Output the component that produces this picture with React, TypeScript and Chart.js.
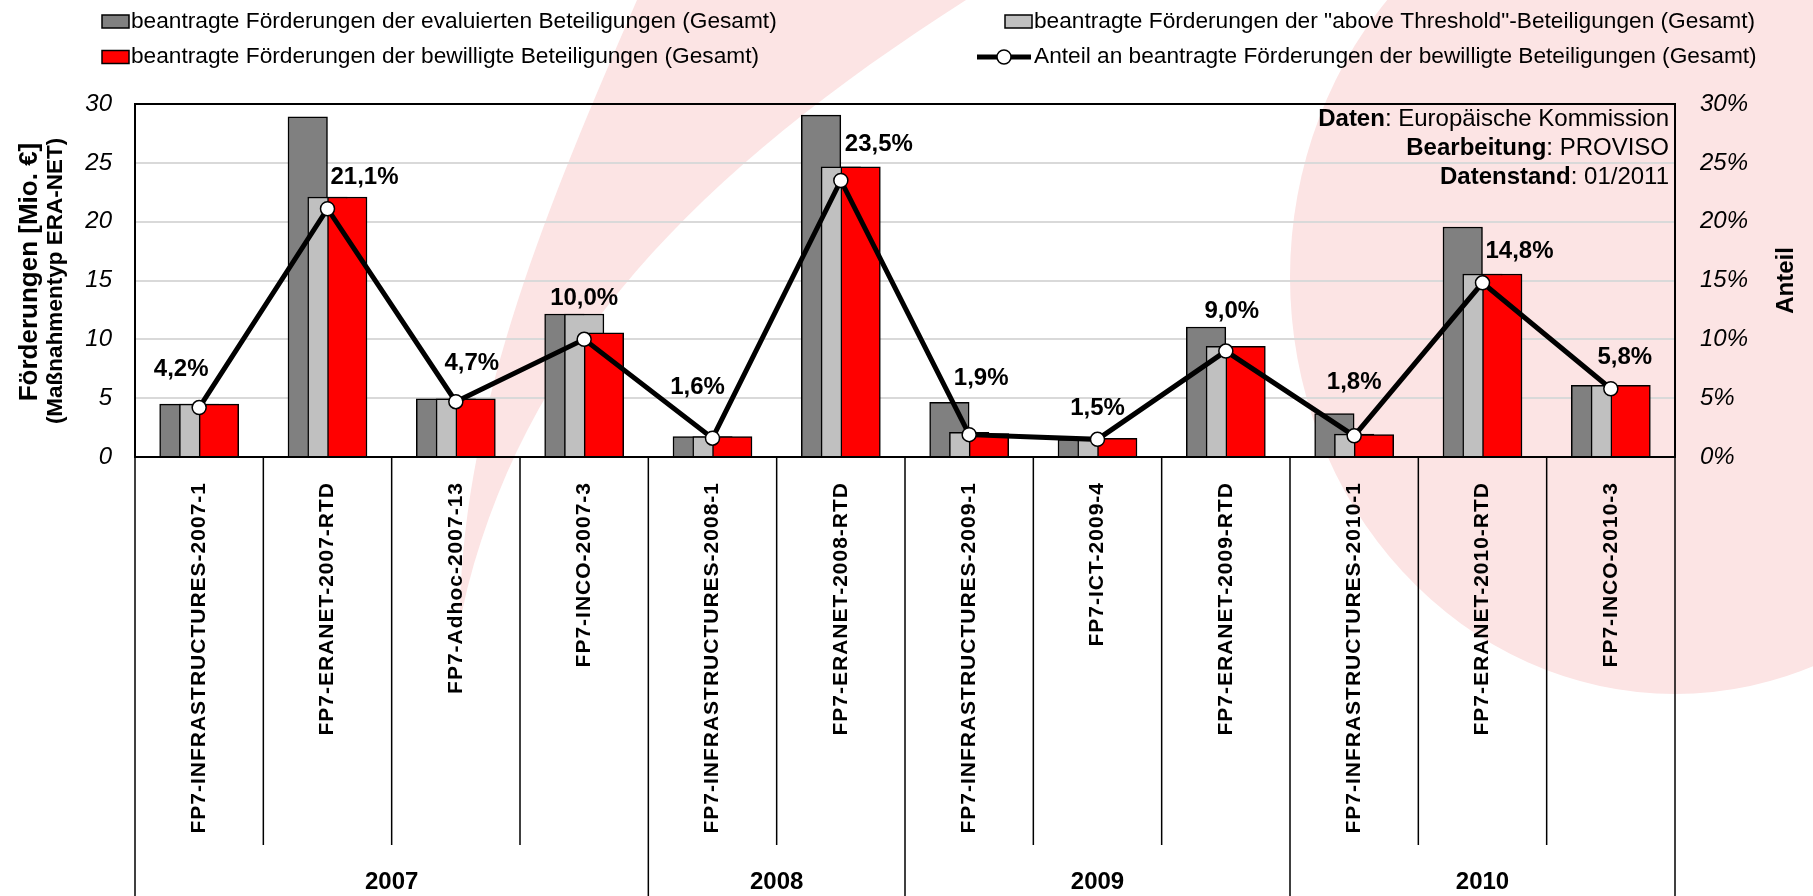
import React, { useEffect, useRef } from 'react';
import { Chart, registerables } from 'chart.js';

Chart.register(...registerables);

// ---------- data ----------
const categories = [
  'FP7-INFRASTRUCTURES-2007-1',
  'FP7-ERANET-2007-RTD',
  'FP7-Adhoc-2007-13',
  'FP7-INCO-2007-3',
  'FP7-INFRASTRUCTURES-2008-1',
  'FP7-ERANET-2008-RTD',
  'FP7-INFRASTRUCTURES-2009-1',
  'FP7-ICT-2009-4',
  'FP7-ERANET-2009-RTD',
  'FP7-INFRASTRUCTURES-2010-1',
  'FP7-ERANET-2010-RTD',
  'FP7-INCO-2010-3',
];
const categoryYears = ['2007', '2007', '2007', '2007', '2008', '2008', '2009', '2009', '2009', '2010', '2010', '2010'];

const evaluated = [4.5, 28.9, 4.95, 12.15, 1.73, 29.05, 4.65, 1.5, 11.05, 3.7, 19.55, 6.1];
const aboveThreshold = [4.5, 22.1, 4.95, 12.15, 1.73, 24.65, 2.1, 1.5, 9.4, 1.95, 15.55, 6.1];
const approved = [4.5, 22.1, 4.95, 10.55, 1.73, 24.65, 2.0, 1.58, 9.4, 1.9, 15.55, 6.1];
const approvedShare = [4.2, 21.1, 4.7, 10.0, 1.6, 23.5, 1.9, 1.5, 9.0, 1.8, 14.8, 5.8];

const seriesLabels = [
  'beantragte Förderungen der evaluierten Beteiligungen (Gesamt)',
  'beantragte Förderungen der "above Threshold"-Beteiligungen (Gesamt)',
  'beantragte Förderungen der bewilligte Beteiligungen (Gesamt)',
  'Anteil an beantragte Förderungen der bewilligte Beteiligungen (Gesamt)',
];

const leftAxisTitle = ['Förderungen [Mio. €]', '(Maßnahmentyp ERA-NET)'];
const rightAxisTitle = 'Anteil';
const sourceLines = [
  ['Daten', ': Europäische Kommission'],
  ['Bearbeitung', ': PROVISO'],
  ['Datenstand', ': 01/2011'],
];

// ---------- styles ----------
const FONT = '"Liberation Sans", Arial, Helvetica, sans-serif';
const PINK = '#FCE4E4';
const DARK = '#808080';
const LIGHT = '#C0C0C0';
const RED = '#FF0000';
const BAR_SHIFT = 0.154; // fraction of a category between overlapping bars
const BAR_PX = 39.5;
// placement of the percentage labels relative to their points (px)
const labelOffsets: [number, number][] = [
  [-18, -38], [37, -31], [16, -38], [0, -41], [-15, -51], [38, -36],
  [12, -56], [0, -31], [6, -40], [0, -53], [37, -31], [14, -31],
];
// legend item placement: dataset index, text x, row y
const legendLayout: [number, number, number][] = [
  [0, 131, 21.5],
  [2, 131, 57],
  [1, 1034, 21.5],
  [3, 1034, 57],
];

const fmtPct = (v: number) => v.toFixed(1).replace('.', ',') + '%';

const decorPlugin = {
  id: 'decor',
  beforeDraw(chart: any) {
    const { ctx, width, height } = chart;
    ctx.save();
    ctx.fillStyle = '#ffffff';
    ctx.fillRect(0, 0, width, height);
    ctx.fillStyle = PINK;
    // swoosh
    ctx.beginPath();
    ctx.moveTo(637, 0);
    ctx.bezierCurveTo(550, 200, 465, 400, 460, 610);
    ctx.lineTo(462, 612);
    ctx.bezierCurveTo(520, 350, 700, 170, 966, 0);
    ctx.closePath();
    ctx.fill();
    // large disc
    ctx.beginPath();
    ctx.ellipse(1675, 277, 385, 417, 0, 0, Math.PI * 2);
    ctx.fill();
    ctx.restore();
  },
  afterDatasetsDraw(chart: any) {
    const { ctx, chartArea: a, scales } = chart;
    const xs = scales.x;
    ctx.save();
    ctx.strokeStyle = '#000';
    // category separators and year separators
    ctx.lineWidth = 1.5;
    const n = categories.length;
    for (let k = 0; k <= n; k++) {
      const x = xs.getPixelForValue(k - 0.5);
      const yearEdge = k === 0 || k === n || categoryYears[k] !== categoryYears[k - 1];
      ctx.beginPath();
      ctx.moveTo(x, a.bottom);
      ctx.lineTo(x, yearEdge ? chart.height : a.bottom + 388);
      ctx.stroke();
    }
    // plot frame
    ctx.lineWidth = 2;
    ctx.strokeRect(a.left, a.top, a.right - a.left, a.bottom - a.top);

    // percentage labels
    const meta = chart.getDatasetMeta(3);
    ctx.fillStyle = '#000';
    ctx.font = `bold 24px ${FONT}`;
    ctx.textAlign = 'center';
    ctx.textBaseline = 'middle';
    meta.data.forEach((pt: any, i: number) => {
      const [dx, dy] = labelOffsets[i];
      ctx.fillText(fmtPct(approvedShare[i]), pt.x + dx, pt.y + dy);
    });

    // category labels (rotated)
    ctx.font = `bold 21px ${FONT}`;
    (ctx as any).letterSpacing = '1px';
    ctx.textAlign = 'right';
    ctx.textBaseline = 'middle';
    categories.forEach((c, i) => {
      const x = xs.getPixelForValue(i);
      ctx.save();
      ctx.translate(x, a.bottom + 25);
      ctx.rotate(-Math.PI / 2);
      ctx.fillText(c, 0, 0);
      ctx.restore();
    });
    (ctx as any).letterSpacing = '0px';

    // year labels
    ctx.font = `bold 24px ${FONT}`;
    ctx.textAlign = 'center';
    let start = 0;
    for (let k = 1; k <= n; k++) {
      if (k === n || categoryYears[k] !== categoryYears[start]) {
        const x0 = xs.getPixelForValue(start - 0.5);
        const x1 = xs.getPixelForValue(k - 0.5);
        ctx.fillText(categoryYears[start], (x0 + x1) / 2, 882);
        start = k;
      }
    }

    // axis titles
    ctx.textBaseline = 'alphabetic';
    ctx.save();
    ctx.translate(36.5, 272);
    ctx.rotate(-Math.PI / 2);
    ctx.font = `bold 26px ${FONT}`;
    ctx.fillText(leftAxisTitle[0], 0, 0);
    ctx.restore();
    ctx.save();
    ctx.translate(62, 281);
    ctx.rotate(-Math.PI / 2);
    ctx.font = `bold 22.5px ${FONT}`;
    ctx.fillText(leftAxisTitle[1], 0, 0);
    ctx.restore();
    ctx.save();
    ctx.translate(1793, (a.top + a.bottom) / 2);
    ctx.rotate(-Math.PI / 2);
    ctx.font = `bold 24px ${FONT}`;
    ctx.fillText(rightAxisTitle, 0, 0);
    ctx.restore();

    // source box text
    ctx.textBaseline = 'middle';
    ctx.textAlign = 'left';
    sourceLines.forEach(([b, r], i) => {
      const y = 119 + i * 29;
      ctx.font = `24px ${FONT}`;
      const wr = ctx.measureText(r).width;
      ctx.font = `bold 24px ${FONT}`;
      const wb = ctx.measureText(b).width;
      const right = a.right - 6;
      ctx.fillText(b, right - wr - wb, y);
      ctx.font = `24px ${FONT}`;
      ctx.fillText(r, right - wr, y);
    });

    // legend
    const ds = chart.data.datasets;
    ctx.font = `22.7px ${FONT}`;
    legendLayout.forEach(([di, tx, y]) => {
      const d = ds[di];
      if (d.type === 'line') {
        const x0 = tx - 57;
        ctx.strokeStyle = '#000';
        ctx.lineWidth = 5;
        ctx.beginPath();
        ctx.moveTo(x0, y);
        ctx.lineTo(x0 + 54, y);
        ctx.stroke();
        ctx.beginPath();
        ctx.arc(x0 + 27, y, 7, 0, Math.PI * 2);
        ctx.fillStyle = '#fff';
        ctx.fill();
        ctx.lineWidth = 1.5;
        ctx.stroke();
      } else {
        const x0 = tx - 29;
        ctx.fillStyle = d.backgroundColor;
        ctx.fillRect(x0, y - 6.5, 27, 13);
        ctx.strokeStyle = '#000';
        ctx.lineWidth = 1.5;
        ctx.strokeRect(x0, y - 6.5, 27, 13);
      }
      ctx.fillStyle = '#000';
      ctx.textAlign = 'left';
      ctx.textBaseline = 'middle';
      ctx.fillText(d.label, tx, y);
    });
    ctx.restore();
  },
};

export default function App() {
  const ref = useRef<HTMLCanvasElement>(null);
  useEffect(() => {
    document.body.style.margin = '0';
    const barCommon = {
      type: 'bar' as const,
      borderColor: '#000',
      borderWidth: 1.5,
      barThickness: BAR_PX,
      grouped: false,
      yAxisID: 'y',
    };
    const chart = new Chart(ref.current as HTMLCanvasElement, {
      type: 'bar',
      data: {
        datasets: [
          {
            ...barCommon,
            label: seriesLabels[0],
            data: evaluated.map((v, i) => ({ x: i - BAR_SHIFT, y: v })),
            backgroundColor: DARK,
            order: 3,
          },
          {
            ...barCommon,
            label: seriesLabels[1],
            data: aboveThreshold.map((v, i) => ({ x: i, y: v })),
            backgroundColor: LIGHT,
            order: 2,
          },
          {
            ...barCommon,
            label: seriesLabels[2],
            data: approved.map((v, i) => ({ x: i + BAR_SHIFT, y: v })),
            backgroundColor: RED,
            order: 1,
          },
          {
            type: 'line',
            label: seriesLabels[3],
            data: approvedShare.map((v, i) => ({ x: i, y: v })),
            yAxisID: 'y1',
            borderColor: '#000',
            borderWidth: 5,
            pointRadius: 7,
            pointBorderWidth: 1.5,
            pointBackgroundColor: '#fff',
            pointBorderColor: '#000',
            tension: 0,
            order: 0,
          } as any,
        ],
      },
      options: {
        responsive: false,
        animation: false,
        events: [],
        layout: { padding: { top: 104, bottom: 439, left: 0, right: 0 } },
        plugins: { legend: { display: false }, tooltip: { enabled: false }, title: { display: false } },
        scales: {
          x: {
            type: 'linear',
            display: false,
            min: -0.5,
            max: categories.length - 0.5,
            offset: false,
            grid: { display: false, offset: false },
          },
          y: {
            type: 'linear',
            position: 'left',
            min: 0,
            max: 30,
            afterFit: (s: any) => { s.width = 135; },
            ticks: {
              stepSize: 5,
              padding: 23,
              color: '#000',
              font: { family: FONT, size: 24, style: 'italic' },
            },
            grid: {
              drawTicks: false,
              lineWidth: 2,
              color: (c: any) => (c.tick && (c.tick.value === 0 || c.tick.value === 30) ? 'rgba(0,0,0,0)' : '#D9D9D9'),
            },
            border: { display: false },
          },
          y1: {
            type: 'linear',
            position: 'right',
            min: 0,
            max: 30,
            afterFit: (s: any) => { s.width = 138; },
            ticks: {
              stepSize: 5,
              padding: 25,
              color: '#000',
              font: { family: FONT, size: 24, style: 'italic' },
              callback: (v: any) => v + '%',
            },
            grid: { display: false, drawTicks: false },
            border: { display: false },
          },
        },
      } as any,
      plugins: [decorPlugin as any],
    });
    return () => chart.destroy();
  }, []);
  return (
    <canvas
      ref={ref}
      width={1813}
      height={896}
      style={{ display: 'block', width: 1813, height: 896 }}
    />
  );
}
